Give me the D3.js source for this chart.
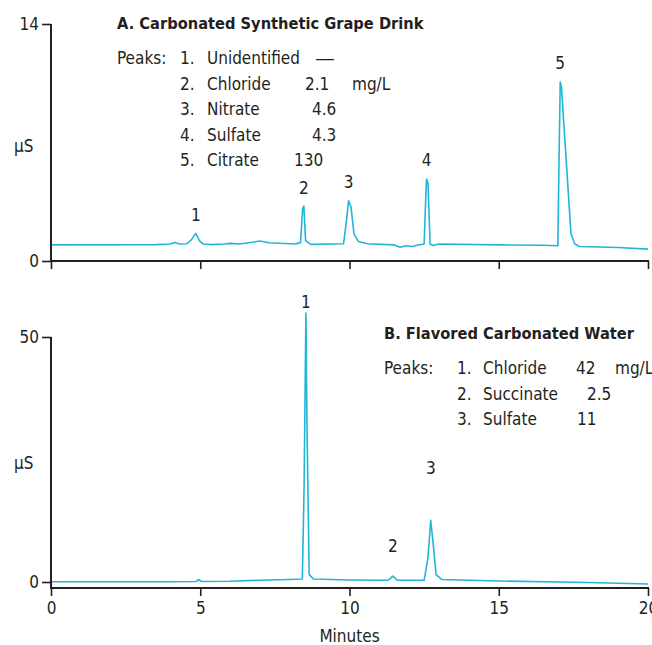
<!DOCTYPE html>
<html>
<head>
<meta charset="utf-8">
<script src="https://cdn.jsdelivr.net/npm/d3@7"></script>
<style>
  body { margin: 0; background: #fff; }
  svg { display: block; }
  text { font-family: "Liberation Sans Narrow", "DejaVu Sans Condensed", sans-serif; fill: #231f20; }
  .title { font-weight: bold; }
  .trace { fill: none; stroke: #22b6d6; stroke-width: 1.6; stroke-linejoin: round; }
  .axis line, .axis path { stroke: #231f20; }
</style>
</head>
<body>
<svg width="652" height="645"></svg>
<script>
// retention time (min), conductivity (µS)
var traceA = [
    [0, 0.95], [3.5, 0.97], [4.0, 1.0], [4.15, 1.1], [4.3, 1.0], [4.55, 1.02],
    [4.7, 1.25], [4.85, 1.63], [4.97, 1.2], [5.1, 1.0], [5.4, 0.97], [5.8, 1.0],
    [6.0, 1.04], [6.3, 1.0], [6.8, 1.12], [7.0, 1.18], [7.3, 1.08], [8.2, 1.0],
    [8.36, 1.1], [8.43, 3.1], [8.47, 3.25], [8.53, 1.2], [8.7, 0.98], [9.8, 1.02],
    [9.9, 2.4], [9.97, 3.56], [10.05, 3.2], [10.15, 1.6], [10.3, 1.15], [10.6, 1.02],
    [11.5, 0.95], [11.7, 0.81], [11.9, 0.9], [12.1, 0.86], [12.3, 0.95], [12.5, 1.0],
    [12.55, 3.5], [12.58, 4.84], [12.63, 4.6], [12.7, 1.0], [12.8, 0.92], [13.0, 1.0],
    [15.0, 0.95], [16.5, 0.93], [16.98, 0.9], [17.02, 6.0], [17.06, 10.57], [17.1, 10.3],
    [17.42, 1.6], [17.55, 1.0], [17.7, 0.86], [19.0, 0.8], [20.0, 0.7]
];
var traceB = [
    [0, 0.05], [4.0, 0.05], [4.85, 0.1], [4.95, 0.45], [5.05, 0.1], [6.0, 0.15],
    [7.0, 0.35], [8.0, 0.5], [8.42, 0.6], [8.48, 20], [8.54, 54.9], [8.58, 30],
    [8.65, 1.5], [8.8, 0.6], [10.0, 0.4], [11.3, 0.35], [11.45, 1.2], [11.6, 0.35],
    [12.5, 0.35], [12.63, 5], [12.72, 12.6], [12.8, 8], [12.9, 1.5], [13.1, 0.5],
    [15.0, 0.2], [18.0, -0.1], [20.0, -0.4]
];

// peak number labels: [time, value at label centre]
var peakLabelsA = [[4.85, 2.7], [8.47, 4.3], [9.97, 4.65], [12.58, 5.95], [17.06, 11.7]];
var peakLabelsB = [[8.54, 57.2], [11.45, 7.4], [12.73, 23.2]];

var xTicks = [0, 5, 10, 15, 20];
var yTicksA = [0, 14];
var yTicksB = [0, 50];

var legendA = {
    title: "A. Carbonated Synthetic Grape Drink",
    nums: ["1.", "2.", "3.", "4.", "5."],
    names: ["Unidentified", "Chloride", "Nitrate", "Sulfate", "Citrate"],
    values: ["\u2014", "2.1", "4.6", "4.3", "130"]
};
var legendB = {
    title: "B. Flavored Carbonated Water",
    nums: ["1.", "2.", "3."],
    names: ["Chloride", "Succinate", "Sulfate"],
    values: ["42", "2.5", "11"]
};

var svg = d3.select("svg");
var fontSize = 17;

var x = d3.scaleLinear().domain([0, 20]).range([51, 648]);

var panels = [
    { trace: traceA, labels: peakLabelsA, ticks: yTicksA, domain: [0, 14], range: [261, 24], axisY: 261, showX: false },
    { trace: traceB, labels: peakLabelsB, ticks: yTicksB, domain: [0, 50], range: [582, 337], axisY: 588, showX: true }
];

panels.forEach(function (p) {
    var y = d3.scaleLinear().domain(p.domain).range(p.range);
    var g = svg.append("g");

    var line = d3.line()
        .x(function (d) { return x(d[0]); })
        .y(function (d) { return y(d[1]); });
    g.append("path")
        .datum(p.trace)
        .attr("class", "trace")
        .attr("d", line);

    // y axis
    var yAxis = d3.axisLeft(y).tickValues(p.ticks).tickSize(9).tickSizeOuter(0).tickPadding(3);
    var ya = g.append("g").attr("class", "axis").attr("transform", "translate(" + x(0) + ",0)").call(yAxis);
    ya.select(".domain").remove();
    ya.selectAll(".tick line").attr("stroke-width", 1.6);
    ya.selectAll("text").attr("font-size", fontSize).style("font-family", null);
    g.append("line")
        .attr("x1", x(0)).attr("x2", x(0))
        .attr("y1", y(p.domain[1])).attr("y2", p.axisY + 1)
        .attr("stroke", "#231f20").attr("stroke-width", 2);

    // x axis
    var xAxis = d3.axisBottom(x).tickValues(xTicks).tickSize(8).tickSizeOuter(0).tickPadding(6);
    if (!p.showX) xAxis.tickFormat("");
    var xa = g.append("g").attr("class", "axis").attr("transform", "translate(0," + p.axisY + ")").call(xAxis);
    xa.select(".domain").remove();
    xa.selectAll(".tick line").attr("stroke-width", 1.6);
    xa.selectAll("text").attr("font-size", fontSize).style("font-family", null);
    g.append("line")
        .attr("x1", x(0) - 1).attr("x2", x(20) + 1)
        .attr("y1", p.axisY).attr("y2", p.axisY)
        .attr("stroke", "#231f20").attr("stroke-width", 2);

    g.append("text")
        .attr("x", 14)
        .attr("y", (y(p.domain[0]) + y(p.domain[1])) / 2 + 9)
        .attr("font-size", fontSize)
        .text("\u00b5S");

    g.selectAll("text.peak")
        .data(p.labels)
        .enter().append("text")
        .attr("class", "peak")
        .attr("x", function (d) { return x(d[0]); })
        .attr("y", function (d) { return y(d[1]); })
        .attr("dy", "0.36em")
        .attr("text-anchor", "middle")
        .attr("font-size", fontSize)
        .text(function (d, i) { return i + 1; });
});

svg.append("text")
    .attr("x", x(10))
    .attr("y", 642)
    .attr("text-anchor", "middle")
    .attr("font-size", fontSize)
    .text("Minutes");

function drawLegend(leg, left, top, cols, unit) {
    var g = svg.append("g");
    g.append("text").attr("class", "title")
        .attr("x", left).attr("y", top)
        .attr("font-size", 16.3)
        .text(leg.title);
    g.append("text")
        .attr("x", left).attr("y", top + 35)
        .attr("font-size", fontSize)
        .text("Peaks:");
    leg.names.forEach(function (name, i) {
        var yy = top + 35 + i * 25.5;
        g.append("text").attr("x", cols[0]).attr("y", yy).attr("font-size", fontSize).text(leg.nums[i]);
        g.append("text").attr("x", cols[1]).attr("y", yy).attr("font-size", fontSize).text(name);
        var v = g.append("text").attr("x", cols[2][i]).attr("y", yy).attr("font-size", fontSize).text(leg.values[i]);
        if (leg.values[i] === "\u2014") v.attr("textLength", 20).attr("lengthAdjust", "spacingAndGlyphs");
    });
    g.append("text")
        .attr("x", unit[0]).attr("y", top + 35 + unit[1] * 25.5)
        .attr("font-size", fontSize)
        .text("mg/L");
}

drawLegend(legendA, 117, 29, [180, 207, [315, 305, 312, 312, 294]], [352, 1]);
drawLegend(legendB, 384, 339, [457, 483, [576, 587, 577]], [615, 0]);
</script>
</body>
</html>
